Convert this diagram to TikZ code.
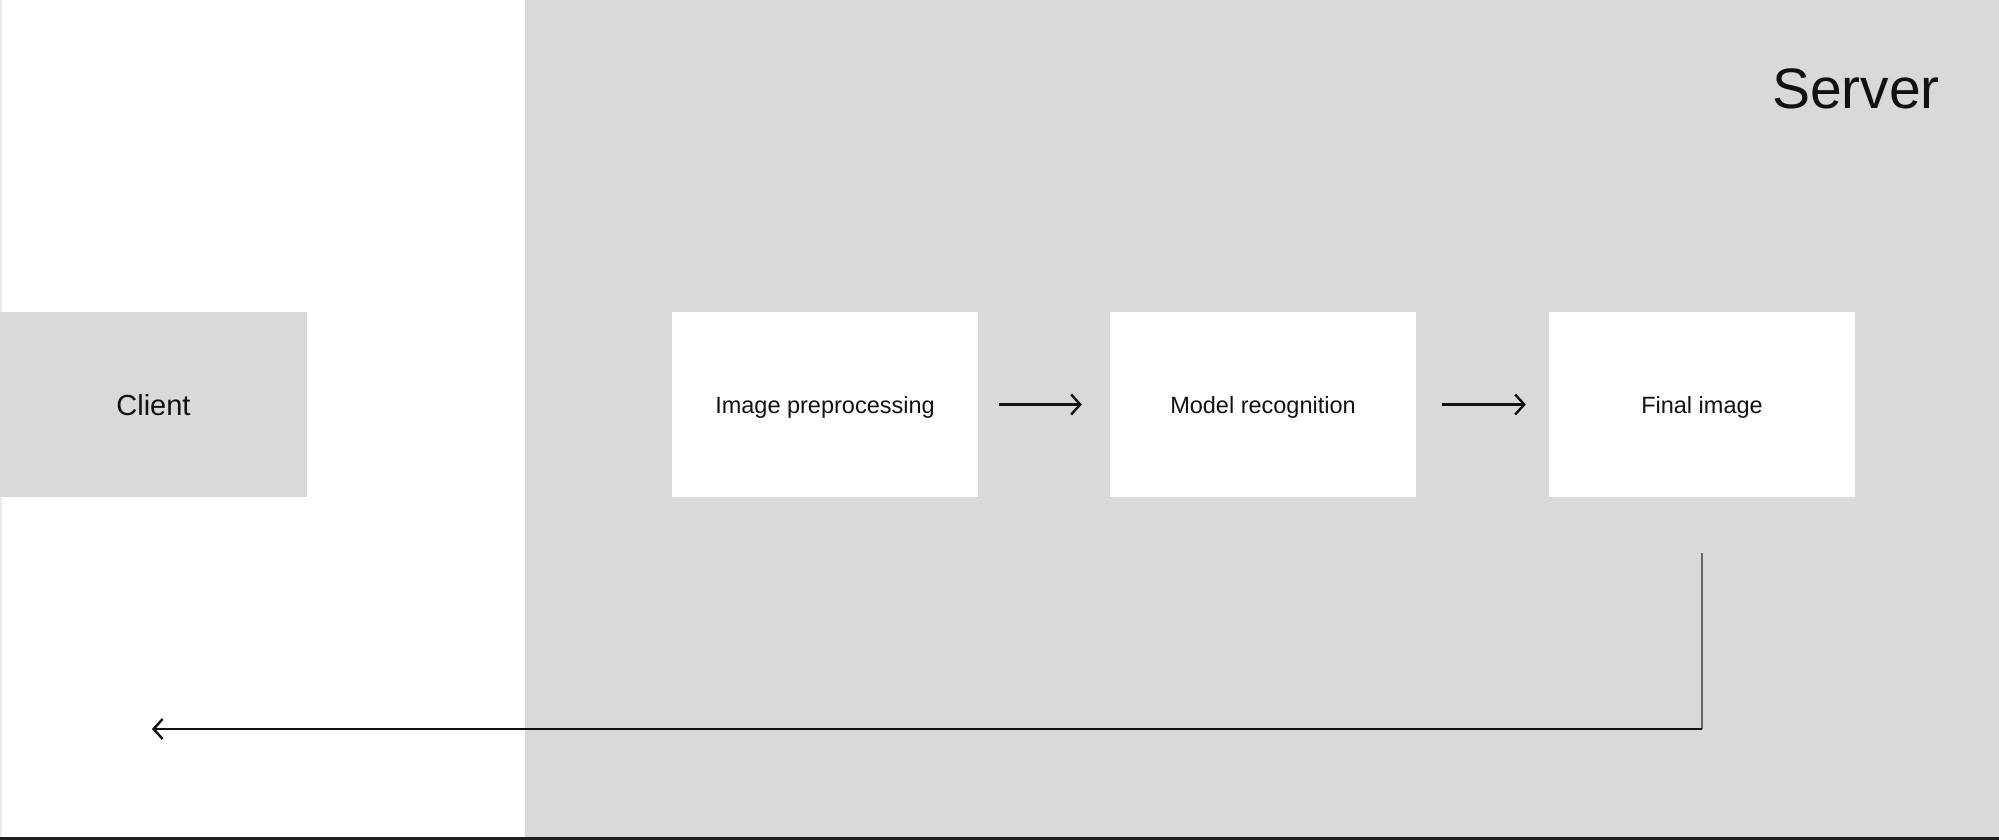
\documentclass[tikz,border=0pt]{standalone}
\usepackage{fontspec}
\setmainfont{Liberation Sans}
\usetikzlibrary{arrows.meta}
\definecolor{panel}{HTML}{D9D9D9}
\definecolor{ink}{HTML}{111111}
\tikzset{
  stagebox/.style={fill=white, draw=none, minimum width=306pt, minimum height=185pt, inner sep=0pt, font=\fontsize{23.5pt}{28pt}\selectfont, text=ink, text height=17pt, text depth=0pt},
  clientbox/.style={fill=panel, draw=none, minimum width=307pt, minimum height=185pt, inner sep=0pt, font=\fontsize{29pt}{34pt}\selectfont, text=ink, text height=21pt, text depth=-7pt},
  flow/.style={draw=ink, line width=2.6pt, -{Straight Barb[length=9pt,width=20pt,line width=2.4pt]}},
  riser/.style={draw=black!60, line width=2pt},
}
\begin{document}
\begin{tikzpicture}[x=1pt,y=-1pt]
\useasboundingbox (0,0) rectangle (1999,840);
\fill[white] (0,0) rectangle (1999,840);
% server panel
\fill[panel] (525,0) rectangle (1999,838);
\node[font=\fontsize{57pt}{66pt}\selectfont, text=ink] (server) at (1856,89) {Server};
% left edge and bottom rule
\draw[black!8, line width=1.5pt] (0.75,0) -- (0.75,838);
\fill[black!88] (0,837) rectangle (1999,840);
% nodes
\node[clientbox] (client) at (153.5,404.5) {Client};
\node[stagebox] (pre) at (825,404.5) {Image preprocessing};
\node[stagebox] (model) at (1263,404.5) {Model recognition};
\node[stagebox] (final) at (1702,404.5) {Final image};
% connectors
\draw[flow, shorten <=21pt, shorten >=28pt] (pre.east) -- (model.west);
\draw[flow, shorten <=26pt, shorten >=23pt] (model.east) -- (final.west);
\coordinate (ret) at (152,729);
\coordinate (corner) at (final.south |- ret);
\draw[riser, shorten <=56pt] (final.south) -- (corner);
\draw[flow] (corner) -- (ret);
\end{tikzpicture}
\end{document}
